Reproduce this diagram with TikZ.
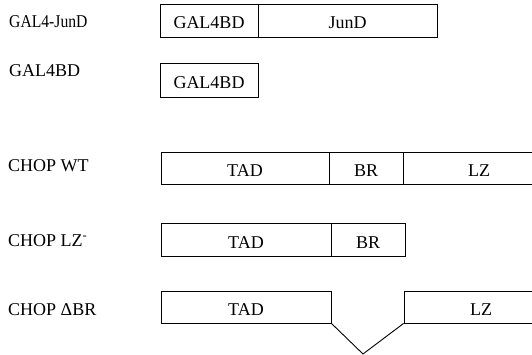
\documentclass[tikz,border=0pt]{standalone}
\usepackage{fontspec}
\setmainfont{Liberation Serif}
\begin{document}
\begin{tikzpicture}[x=1pt,y=-1pt,
  dom/.style={draw=black, line width=0.9pt, inner sep=0pt, text height=17pt, text depth=0pt, font=\fontsize{18}{20}\selectfont},
  lbl/.style={anchor=base west, inner sep=0pt, font=\fontsize{18}{20}\selectfont}]
\useasboundingbox (0,0) rectangle (532,355);
\clip (0,0) rectangle (532,355);
% labels
\node[lbl] (l1) at (9,28) {\scalebox{0.87}[1]{GAL4-JunD}};
\node[lbl] (l2) at (9,77) {GAL4BD};
\node[lbl] (l3) at (8,172) {CHOP WT};
\node[lbl] (l4) at (8,246) {CHOP LZ\textsuperscript{-}};
\node[lbl] (l5) at (8,315) {CHOP ΔBR};
% GAL4-JunD
\node[dom, minimum width=98pt, minimum height=33pt] (g1) at (209,20.5) {GAL4BD};
\node[dom, minimum width=179pt, minimum height=33pt] (j1) at (347.5,20.5) {JunD};
% GAL4BD
\node[dom, minimum width=98pt, minimum height=34pt] (g2) at (209,80.5) {GAL4BD};
% CHOP WT
\node[dom, minimum width=168pt, minimum height=32pt] (t3) at (245,168) {TAD};
\node[dom, minimum width=74pt, minimum height=32pt] (b3) at (366,168) {BR};
\node[dom, minimum width=152pt, minimum height=32pt] (z3) at (479,168) {LZ};
% CHOP LZ-
\node[dom, minimum width=170pt, minimum height=33pt] (t4) at (246,239.5) {TAD};
\node[dom, minimum width=74pt, minimum height=33pt] (b4) at (368,239.5) {BR};
% CHOP dBR
\node[dom, minimum width=170pt, minimum height=32pt] (t5) at (246,307) {TAD};
\node[dom, minimum width=154pt, minimum height=32pt] (z5) at (481,307) {LZ};
\coordinate (v5) at (363,354);
\draw[line width=0.9pt] (t5.south east) -- (v5) -- (z5.south west);
\end{tikzpicture}
\end{document}
